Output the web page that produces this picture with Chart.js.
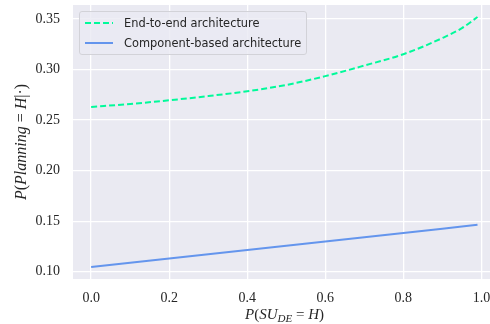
<!DOCTYPE html>
<html>
<head>
<meta charset="utf-8">
<script src="https://cdn.jsdelivr.net/npm/chart.js@4.4.0/dist/chart.umd.min.js"></script>
<style>
  body { margin: 0; background: #ffffff; }
  #wrap { position: relative; width: 490px; height: 324px; }
  #legend {
    position: absolute; left: 79px; top: 11px; width: 226px; height: 42px;
    border: 1px solid #d2d2d8; border-radius: 3px; background: rgba(234, 234, 242, 0.8);
    font-family: "DejaVu Sans", sans-serif; font-size: 11.4px; color: #262626;
  }
  .item { position: absolute; left: 5px; height: 16px; display: flex; align-items: center; }
  .item svg { margin-right: 11px; }
</style>
</head>
<body>
<div id="wrap">
  <canvas id="chart" width="490" height="324"></canvas>
  <div id="legend"></div>
</div>
<script>
// values
const xValues = [0, 0.1, 0.2, 0.3, 0.4, 0.5, 0.6, 0.7, 0.8, 0.9, 0.95, 0.99];
const endToEnd = [0.263, 0.266, 0.2696, 0.2738, 0.2785, 0.2848, 0.2935, 0.304, 0.3152, 0.3312, 0.341, 0.352];
const componentBased = [0.1047, 0.1089, 0.1131, 0.1173, 0.1215, 0.1257, 0.1300, 0.1342, 0.1384, 0.1426, 0.1447, 0.1465];

const seriesLabels = ['End-to-end architecture', 'Component-based architecture'];
const xTicks = [0.0, 0.2, 0.4, 0.6, 0.8, 1.0];
const xTickLabels = ['0.0', '0.2', '0.4', '0.6', '0.8', '1.0'];
const yTicks = [0.10, 0.15, 0.20, 0.25, 0.30, 0.35];
const yTickLabels = ['0.10', '0.15', '0.20', '0.25', '0.30', '0.35'];

const GREEN = '#00fa9a';
const BLUE = '#6495ed';
const SERIF = '"Liberation Serif", serif';

function points(xs, ys) {
  return xs.map((x, i) => ({ x: x, y: ys[i] }));
}

// draws a run of text pieces, each with its own style
function drawPieces(ctx, pieces, size) {
  let total = 0;
  pieces.forEach(p => {
    ctx.font = (p.italic ? 'italic ' : '') + Math.round(size * (p.sub ? 0.7 : 1)) + 'px ' + SERIF;
    p.w = ctx.measureText(p.t).width;
    total += p.w;
  });
  let x = -total / 2;
  pieces.forEach(p => {
    ctx.font = (p.italic ? 'italic ' : '') + Math.round(size * (p.sub ? 0.7 : 1)) + 'px ' + SERIF;
    ctx.fillText(p.t, x, p.sub ? size * 0.3 : 0);
    x += p.w;
  });
}

// scales ask for extra room for their edge labels; we want a fixed plot area
function noPadding(s) {
  s.paddingLeft = 0;
  s.paddingRight = 0;
  s.paddingTop = 0;
  s.paddingBottom = 0;
}

const plotBackground = {
  id: 'plotBackground',
  beforeDraw(chart) {
    const a = chart.chartArea;
    const ctx = chart.ctx;
    ctx.save();
    ctx.fillStyle = '#eaeaf2';
    ctx.fillRect(a.left, a.top, a.right - a.left, a.bottom - a.top);
    ctx.restore();
  }
};

const axisTitles = {
  id: 'axisTitles',
  afterDraw(chart) {
    const ctx = chart.ctx;
    ctx.save();
    ctx.fillStyle = '#262626';
    ctx.textBaseline = 'middle';
    ctx.textAlign = 'left';
    ctx.translate(284.5, 315);
    drawPieces(ctx, [
      { t: 'P', italic: true }, { t: '(' }, { t: 'SU', italic: true },
      { t: 'DE', italic: true, sub: true }, { t: ' = ' }, { t: 'H', italic: true }, { t: ')' }
    ], 15);
    ctx.restore();

    ctx.save();
    ctx.fillStyle = '#262626';
    ctx.textBaseline = 'middle';
    ctx.textAlign = 'left';
    ctx.translate(22, 142);
    ctx.rotate(-Math.PI / 2);
    drawPieces(ctx, [
      { t: 'P', italic: true }, { t: '(' }, { t: 'Planning', italic: true },
      { t: ' = ' }, { t: 'H', italic: true }, { t: '|·)' }
    ], 16);
    ctx.restore();
  }
};

new Chart(document.getElementById('chart'), {
  type: 'line',
  data: {
    datasets: [
      {
        label: seriesLabels[0],
        data: points(xValues, endToEnd),
        borderColor: GREEN,
        borderWidth: 2,
        borderDash: [6, 3],
        pointRadius: 0,
        tension: 0.4,
        cubicInterpolationMode: 'monotone'
      },
      {
        label: seriesLabels[1],
        data: points(xValues, componentBased),
        borderColor: BLUE,
        borderWidth: 2,
        pointRadius: 0,
        tension: 0
      }
    ]
  },
  options: {
    responsive: false,
    animation: false,
    layout: { autoPadding: false, padding: { top: 5, right: 0, left: 0, bottom: 0 } },
    plugins: { legend: { display: false }, tooltip: { enabled: false } },
    scales: {
      x: {
        type: 'linear',
        min: -0.0465,
        max: 1.022,
        afterBuildTicks: s => { s.ticks = xTicks.map(v => ({ value: v })); },
        afterFit: s => { s.height = 45; noPadding(s); },
        grid: { color: '#ffffff', lineWidth: 1.3, drawTicks: false },
        border: { display: false },
        ticks: {
          padding: 11,
          color: '#262626',
          font: { family: SERIF, size: 14 },
          callback: (v, i) => xTickLabels[i]
        }
      },
      y: {
        type: 'linear',
        min: 0.0928,
        max: 0.3639,
        afterBuildTicks: s => { s.ticks = yTicks.map(v => ({ value: v })); },
        afterFit: s => { s.width = 73; noPadding(s); },
        grid: { color: '#ffffff', lineWidth: 1.3, drawTicks: false },
        border: { display: false },
        ticks: {
          padding: 13,
          color: '#262626',
          font: { family: SERIF, size: 14 },
          callback: (v, i) => yTickLabels[i]
        }
      }
    }
  },
  plugins: [plotBackground, axisTitles]
});

// legend as html, line samples as small svg
const legend = document.getElementById('legend');
const styles = [
  { color: GREEN, dash: '6,3' },
  { color: BLUE, dash: '' }
];
seriesLabels.forEach((label, i) => {
  const item = document.createElement('div');
  item.className = 'item';
  item.style.top = (3 + i * 19.5) + 'px';
  item.innerHTML = '<svg width="28" height="4"><line x1="0" y1="2" x2="28" y2="2" stroke="' +
    styles[i].color + '" stroke-width="2" stroke-dasharray="' + styles[i].dash + '"/></svg>' +
    '<span>' + label + '</span>';
  legend.appendChild(item);
});
</script>
</body>
</html>
